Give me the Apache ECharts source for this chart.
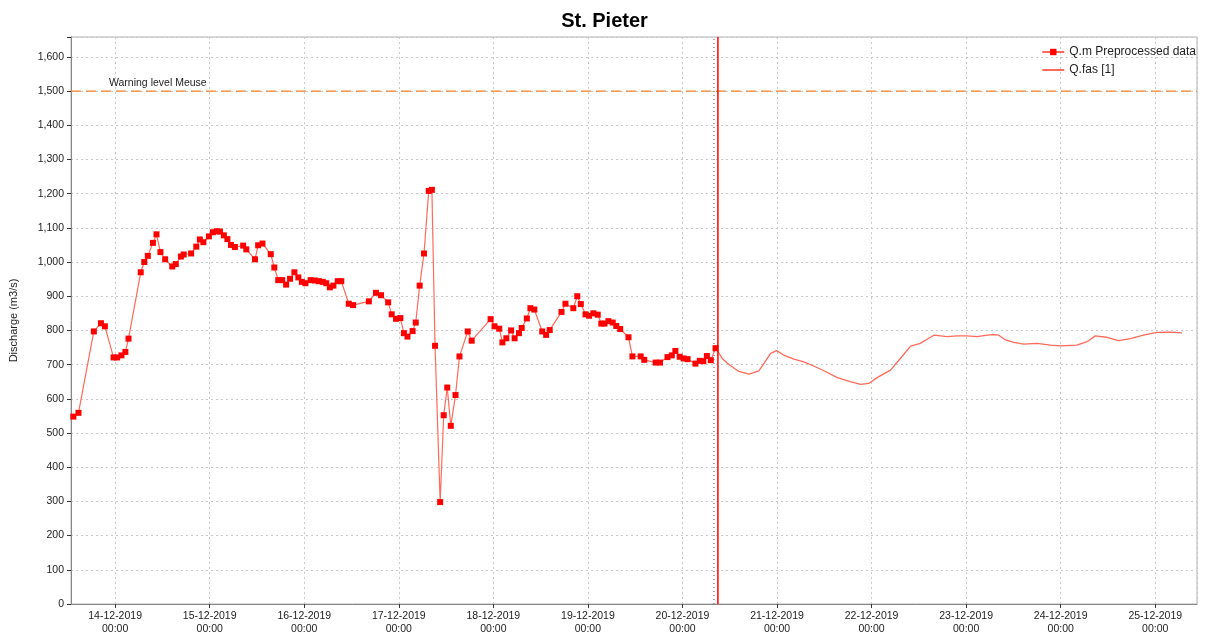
<!DOCTYPE html>
<html>
<head>
<meta charset="utf-8">
<script src="https://cdn.jsdelivr.net/npm/echarts@6/dist/echarts.min.js"></script>
<style>
  html, body { margin: 0; padding: 0; background: #fff; }
  #box { width: 1209px; height: 640px; }
</style>
</head>
<body>
<div id="box"></div>
<script>
  // hours relative to 14-12-2019 00:00
  const obsHours = [-10.6, -9.3, -5.4, -3.6, -2.6, -0.4, 0.5, 1.6, 2.6, 3.4, 6.5, 7.4, 8.3, 9.6, 10.5, 11.5, 12.7, 14.5, 15.4, 16.7,
    17.4, 19.3, 20.6, 21.5, 22.4, 23.8, 24.8, 25.8, 26.6, 27.6, 28.5, 29.4, 30.4, 32.5, 33.3, 35.5, 36.3, 37.4, 39.5, 40.4,
    41.4, 42.4, 43.4, 44.4, 45.5, 46.5, 47.4, 48.3, 49.6, 50.7, 51.7, 52.7, 53.6, 54.5, 55.4, 56.5, 57.4, 59.3, 60.4, 64.4,
    66.2, 67.5, 69.3, 70.2, 71.3, 72.4, 73.3, 74.2, 75.5, 76.3, 77.3, 78.4, 79.6, 80.4, 81.2, 82.5, 83.4, 84.3, 85.2, 86.4,
    87.4, 89.5, 90.5, 95.3, 96.3, 97.5, 98.3, 99.3, 100.5, 101.4, 102.5, 103.2, 104.5, 105.4, 106.4, 108.4, 109.4, 110.3, 113.3, 114.3,
    116.3, 117.3, 118.2, 119.4, 120.3, 121.4, 122.5, 123.4, 124.2, 125.2, 126.3, 127.2, 128.2, 130.3, 131.3, 133.4, 134.3, 137.2, 138.3, 140.2,
    141.3, 142.2, 143.3, 144.3, 145.3, 147.3, 148.4, 149.3, 150.2, 151.2, 152.4];
  const obsValues = [548, 559, 797, 821, 812, 721, 721, 727, 737, 776, 970, 1000, 1018, 1056, 1081, 1029, 1008, 987, 994, 1016,
    1022, 1025, 1045, 1066, 1058, 1075, 1087, 1090, 1089, 1078, 1067, 1050, 1044, 1048, 1037, 1008, 1049, 1054, 1023, 984,
    947, 947, 934, 951, 970, 955, 942, 938, 947, 946, 944, 942, 938, 926, 931, 944, 944, 878, 874, 885,
    910, 903, 882, 847, 834, 836, 792, 782, 798, 823, 931, 1025, 1208, 1211, 755, 298, 552, 633, 521, 611,
    724, 797, 770, 833, 812, 805, 765, 777, 800, 777, 792, 807, 835, 865, 861, 797, 787, 801, 854, 878,
    865, 900, 877, 847, 843, 850, 846, 820, 820, 827, 823, 813, 804, 780, 724, 724, 714, 706, 706, 722,
    727, 740, 723, 718, 716, 703, 711, 710, 725, 713, 748];

  const fcHours = [152.4, 152.8, 154.1, 155.4, 158.3, 160.9, 163.4, 166.4, 167.9, 169.7, 172.3, 174.8, 177.3, 179.9, 183.3, 186.6,
    189.2, 191.3, 193.4, 196.8, 199.3, 201.9, 204.4, 206.1, 207.8, 211.2, 213.7, 216.2, 218.8, 220.5, 222.6, 224.3, 226.0,
    228.1, 230.6, 234.0, 237.4, 239.9, 244.1, 246.7, 248.8, 251.7, 254.7, 257.7, 261.0, 264.4, 267.8, 270.8];
  const fcValues = [748, 743, 718, 704, 680, 672, 682, 733, 741, 728, 716, 708, 696, 682, 662, 650,
    642, 645, 662, 684, 718, 754, 762, 774, 786, 782, 784, 784, 782, 785, 788, 786, 772,
    765, 760, 762, 757, 755, 757, 767, 784, 780, 770, 776, 786, 794, 795, 793];

  const warningLevel = 1500;
  const dottedLineHour = 152.0;
  const forecastStartHour = 153.0;
  const axisHours = [-11.2, 274.6];
  const yMax = 1658;

  const base = new Date(2019, 11, 14, 0, 0).getTime();
  const H = 3600 * 1000;
  const toTime = (h) => base + h * H;

  const box = document.getElementById('box');
  const chart = echarts.init(box);
  const font = 'Liberation Sans, Arial, sans-serif';

  // reference lines drawn as plain two-point line series
  const refLine = (name, data, lineStyle, z) => ({
    name: name,
    type: 'line',
    data: data,
    silent: true,
    symbol: 'none',
    lineStyle: lineStyle,
    itemStyle: { color: lineStyle.color },
    z: z,
  });

  chart.setOption({
    animation: false,
    title: {
      text: 'St. Pieter',
      left: 'center',
      top: 6,
      textStyle: { fontFamily: font, fontSize: 20, fontWeight: 'bold', color: '#000' },
    },
    legend: {
      orient: 'vertical',
      right: 8,
      top: 41,
      itemGap: 6,
      itemWidth: 22,
      itemHeight: 8,
      textStyle: { fontFamily: font, fontSize: 12, color: '#222' },
      data: [
        { name: 'Q.m Preprocessed data' },
        { name: 'Q.fas [1]', itemStyle: { opacity: 0 } },
      ],
    },
    grid: {
      left: 70,
      right: 12,
      top: 37,
      bottom: 36,
      show: true,
      borderColor: '#b0b0b0',
      borderWidth: 1,
    },
    xAxis: {
      type: 'time',
      min: toTime(axisHours[0]),
      max: toTime(axisHours[1]),
      minInterval: 24 * H,
      maxInterval: 24 * H,
      axisLine: { show: true, lineStyle: { color: '#888' } },
      axisTick: { show: true, length: 4, lineStyle: { color: '#333' } },
      splitLine: { show: true, lineStyle: { color: '#c8c8c8', type: [2, 3] } },
      axisLabel: {
        fontFamily: font,
        fontSize: 10.5,
        color: '#222',
        margin: 6,
        lineHeight: 13,
        showMinLabel: false,
        showMaxLabel: false,
        formatter: (v) => echarts.time.format(v, '{dd}-{MM}-{yyyy}\n{HH}:{mm}', false),
      },
    },
    yAxis: {
      type: 'value',
      min: 0,
      max: yMax,
      interval: 100,
      name: 'Discharge (m3/s)',
      nameLocation: 'middle',
      nameGap: 52,
      nameTextStyle: { fontFamily: font, fontSize: 11, color: '#222' },
      axisLine: { show: true, lineStyle: { color: '#888' } },
      axisTick: { show: true, length: 4, lineStyle: { color: '#333' } },
      splitLine: { show: true, lineStyle: { color: '#c8c8c8', type: [2, 3] } },
      axisLabel: {
        fontFamily: font,
        fontSize: 10.5,
        color: '#222',
        margin: 7,
        formatter: (v) => (v % 100 === 0 ? v.toLocaleString('en-US') : ''),
      },
    },
    series: [
      {
        name: 'warning',
        type: 'line',
        silent: true,
        showSymbol: true,
        symbol: 'circle',
        symbolSize: 0,
        z: 1,
        lineStyle: { color: '#f5822a', type: [10, 5], width: 1.2 },
        itemStyle: { color: '#f5822a' },
        data: [
          {
            value: [toTime(axisHours[0]), warningLevel],
            label: {
              show: true,
              formatter: 'Warning level Meuse',
              position: [38, -13],
              fontFamily: font,
              fontSize: 10.5,
              color: '#222',
            },
          },
          [toTime(axisHours[1]), warningLevel],
        ],
      },
      refLine('dotted', [[toTime(dottedLineHour), 0], [toTime(dottedLineHour), yMax]],
        { color: '#555', type: [1, 3], width: 1 }, 1),
      refLine('t0', [[toTime(forecastStartHour), 0], [toTime(forecastStartHour), yMax]],
        { color: '#ff0000', type: 'solid', width: 1.5 }, 4),
      {
        name: 'Q.m Preprocessed data',
        type: 'line',
        data: obsHours.map((h, i) => [toTime(h), obsValues[i]]),
        symbol: 'rect',
        symbolSize: 6,
        showAllSymbol: true,
        itemStyle: { color: '#ff0000' },
        lineStyle: { color: '#ff6a5a', width: 1.2 },
        z: 3,
      },
      {
        name: 'Q.fas [1]',
        type: 'line',
        data: fcHours.map((h, i) => [toTime(h), fcValues[i]]),
        showSymbol: false,
        symbol: 'none',
        itemStyle: { color: '#ff6a5a' },
        lineStyle: { color: '#ff6a5a', width: 1.3 },
        z: 2,
      },
    ],
  });
</script>
</body>
</html>
